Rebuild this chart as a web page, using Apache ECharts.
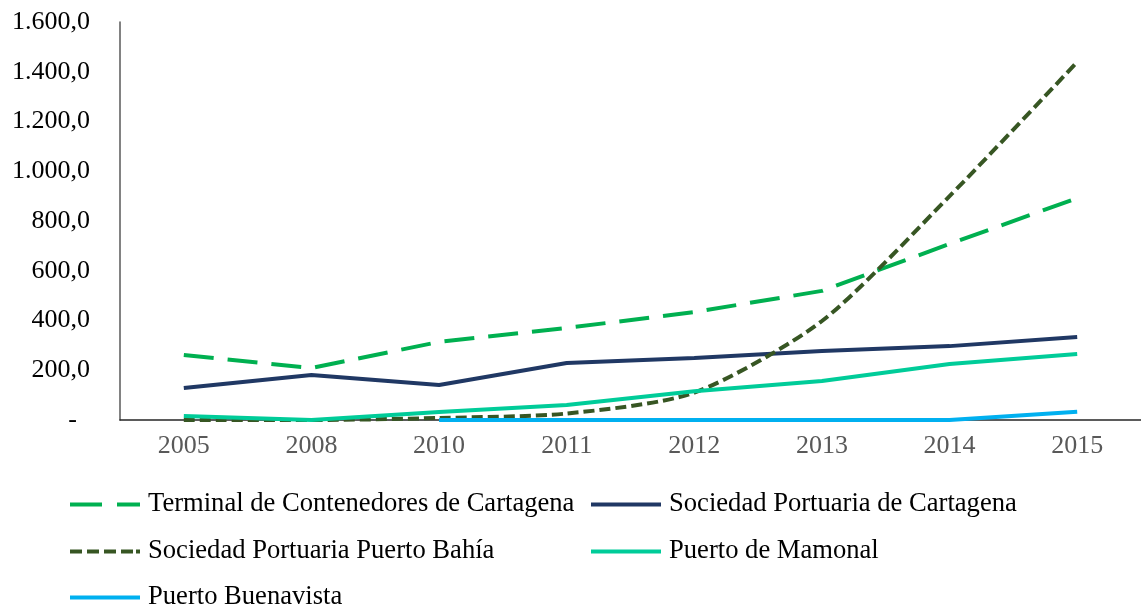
<!DOCTYPE html>
<html>
<head>
<meta charset="utf-8">
<title>Puertos Cartagena</title>
<script src="https://cdn.jsdelivr.net/npm/echarts@6/dist/echarts.min.js"></script>
<style>
  html, body { margin: 0; padding: 0; background: #fff; }
  #chart { width: 1141px; height: 607px; }
</style>
</head>
<body>
<div id="chart"></div>
<script>
// años
var years = ['2005', '2008', '2010', '2011', '2012', '2013', '2014', '2015'];

// series
var terminalContenedores = [261, 209, 314, 370, 434, 519, 708, 892];
var sprCartagena = [129, 181, 141, 229, 249, 277, 297, 334];
var sprPuertoBahia = [0, 0, 8, 26, 110, 398, 900, 1439];
var puertoMamonal = [16, 0, 32, 60, 116, 157, 225, 265];
var puertoBuenavista = [null, null, 0, 0, 0, 0, 0, 33];

var yTicks = [0, 200, 400, 600, 800, 1000, 1200, 1400, 1600];

var fontFam = '"Liberation Serif", "Times New Roman", serif';

function fmt(v) {
  if (v === 0) return '-\u00a0\u00a0';
  var s = Math.round(v).toString().replace(/\B(?=(\d{3})+(?!\d))/g, '.');
  return s + ',0';
}

function mkLine(name, data, color, dash, smooth) {
  return {
    name: name,
    type: 'line',
    data: data,
    symbol: 'none',
    smooth: smooth || false,
    connectNulls: false,
    lineStyle: { color: color, width: 4, type: dash || 'solid' },
    itemStyle: { color: color }
  };
}

// iconos de la leyenda (línea, guiones, puntos)
var iconSolid = 'path://M0,0h70v4h-70z';
var iconDash = 'path://M0,0h32v4h-32z M47,0h23v4h-23z';
var iconDot = 'path://M0,0h12v4h-12z M17,0h12v4h-12z M34,0h12v4h-12z M51,0h12v4h-12z M66,0h4v4h-4z';

function mkLegend(name, icon, left, cy) {
  return {
    left: left,
    top: cy - 13,
    padding: 0,
    itemWidth: 70,
    itemHeight: 4,
    selectedMode: false,
    textStyle: { fontSize: 26.6, fontFamily: fontFam, color: '#000', padding: [0, 0, 0, 3] },
    data: [{ name: name, icon: icon }]
  };
}

var chart = echarts.init(document.getElementById('chart'));
chart.setOption({
  animation: false,
  textStyle: { fontFamily: fontFam },
  grid: { left: 120, top: 22, width: 1030, bottom: 187, containLabel: false },
  xAxis: {
    type: 'category',
    data: years,
    boundaryGap: true,
    axisLine: { lineStyle: { color: '#262626', width: 1.5 } },
    axisTick: { show: false },
    axisLabel: { color: '#595959', fontSize: 26, fontFamily: fontFam, margin: 13 }
  },
  yAxis: {
    type: 'value',
    min: yTicks[0],
    max: yTicks[yTicks.length - 1],
    interval: 200,
    splitLine: { show: false },
    axisLine: { show: true, lineStyle: { color: '#595959', width: 1.5 } },
    axisTick: { show: false },
    axisLabel: { color: '#000', fontSize: 26, fontFamily: fontFam, margin: 30, formatter: fmt }
  },
  legend: [
    mkLegend('Terminal de Contenedores de Cartagena', iconDash, 70, 504),
    mkLegend('Sociedad Portuaria de Cartagena', iconSolid, 591, 504),
    mkLegend('Sociedad Portuaria Puerto Bahía', iconDot, 70, 551),
    mkLegend('Puerto de Mamonal', iconSolid, 591, 551),
    mkLegend('Puerto Buenavista', iconSolid, 70, 597)
  ],
  series: [
    mkLine('Terminal de Contenedores de Cartagena', terminalContenedores, '#00B050', [30, 14]),
    mkLine('Sociedad Portuaria de Cartagena', sprCartagena, '#203864'),
    mkLine('Sociedad Portuaria Puerto Bahía', sprPuertoBahia, '#375623', [11, 5], 0.25),
    mkLine('Puerto de Mamonal', puertoMamonal, '#00CC99'),
    mkLine('Puerto Buenavista', puertoBuenavista, '#00B0F0')
  ]
});
</script>
</body>
</html>
